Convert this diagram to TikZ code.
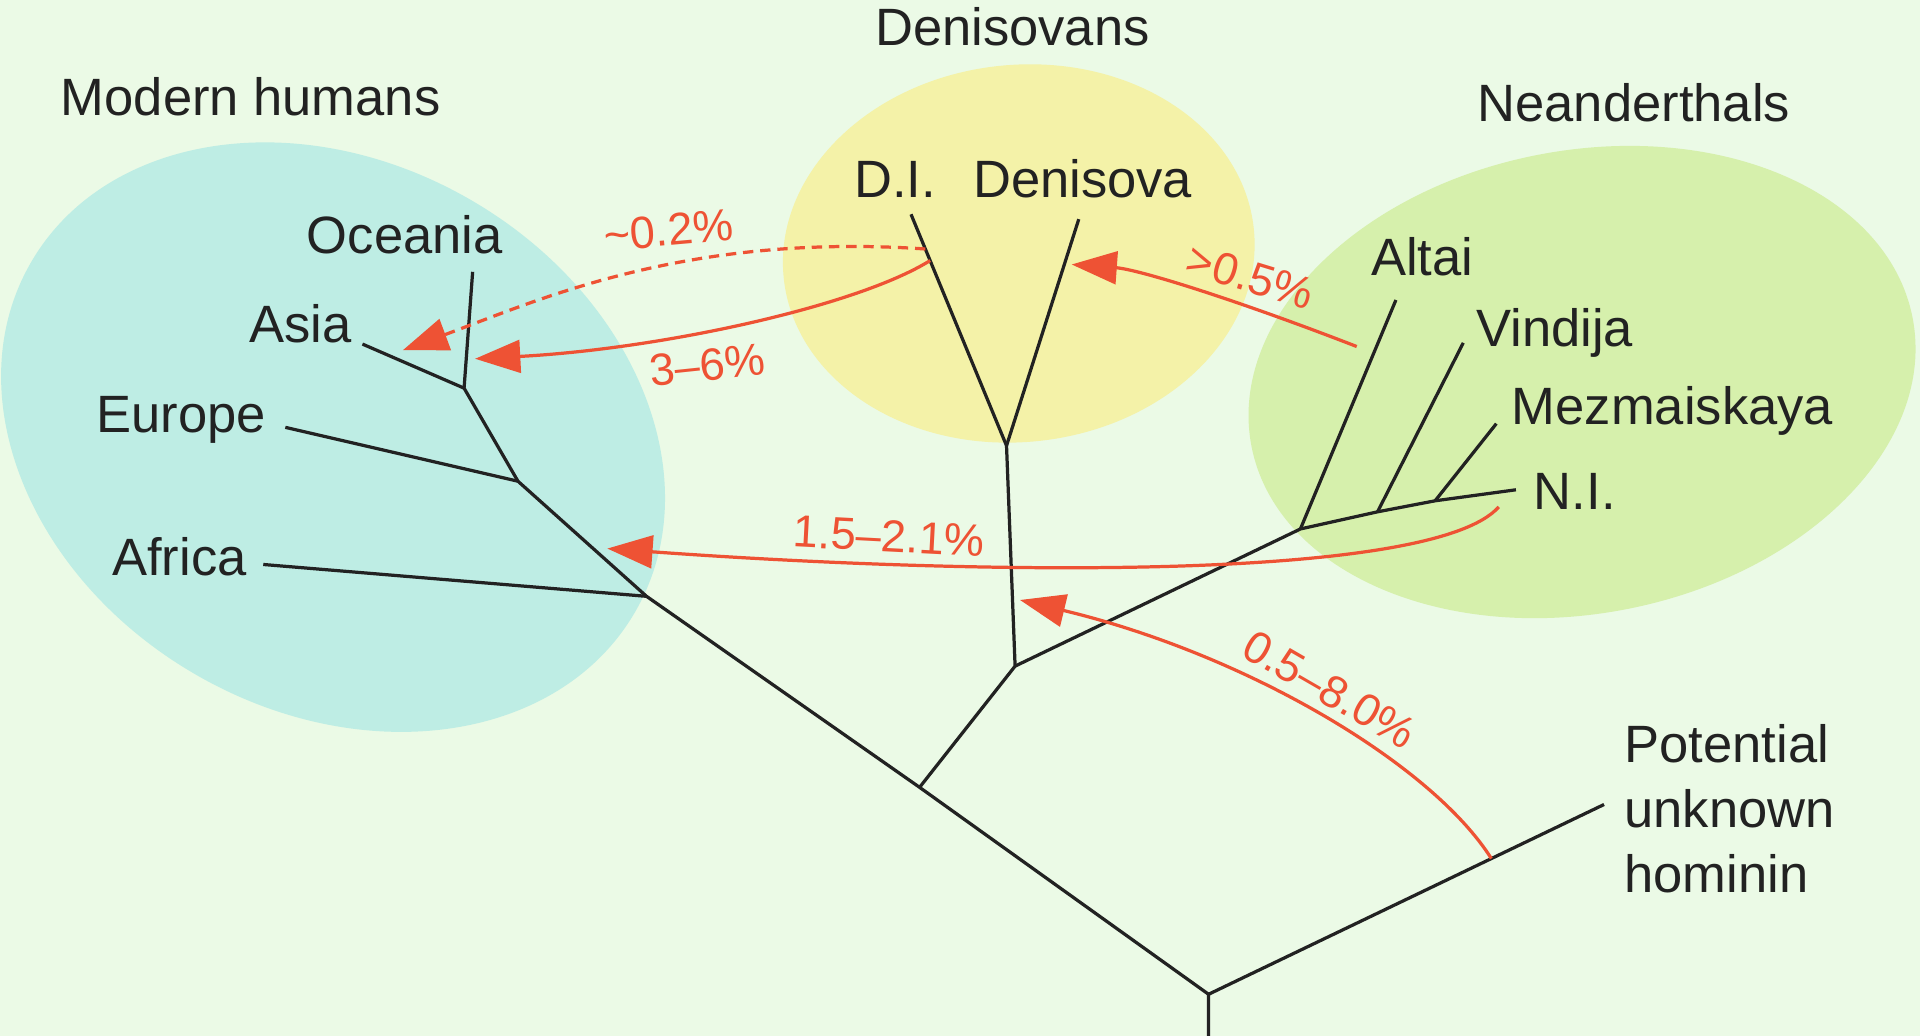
\documentclass[tikz,border=0pt]{standalone}
\usepackage{fontspec}
\setmainfont{Liberation Sans}
\usepackage{xcolor}
\usepackage{tikz}
\usetikzlibrary{arrows.meta,calc}

\definecolor{bgmint}{HTML}{EBFAE6}
\definecolor{humanblue}{HTML}{BEEDE4}
\definecolor{denyellow}{HTML}{F4F2A8}
\definecolor{neagreen}{HTML}{D6F0AC}
\definecolor{flowred}{HTML}{EE5234}
\definecolor{inkgrey}{HTML}{222222}

\begin{document}
\begin{tikzpicture}[x=0.01cm,y=-0.01cm,
    branch/.style={draw=inkgrey, line width=0.75pt, line join=round},
    flow/.style={draw=flowred, line width=0.75pt, -{Triangle[length=10.5pt,width=7.6pt]}},
    taxon/.style={font=\fontsize{12.2}{15.1}\selectfont, text=inkgrey, inner sep=0pt},
    pct/.style={font=\fontsize{10.5}{12}\selectfont, text=flowred, inner sep=0pt}]
        \fill[bgmint] (0,0) rectangle (1568,846);
        \useasboundingbox (0,0) rectangle (1568,846);

        \coordinate (mhc) at (272,357);
        \coordinate (dnc) at (832,207);
        \coordinate (nec) at (1292,312);
        \fill[humanblue, rotate around={-30:(mhc)}] (mhc) ellipse [x radius=285, y radius=224];
        \fill[denyellow, rotate around={6:(dnc)}] (dnc) ellipse [x radius=193, y radius=154];
        \fill[neagreen, rotate around={11:(nec)}] (nec) ellipse [x radius=275, y radius=189];

        \foreach \id/\x/\y in {
            r0/987/812, rb/987/846, unk/1310/657, ar/751/643, dn/829/544, dj/822/364,
            nr/1062/432, vj/1125/418, mj/1172/409, af/528/487, eu/423/393, ao/379/317,
            ditip/744/175, dstip/881/179, altip/1140/245, vitip/1195/280, mztip/1222/346,
            nitip/1238/400, aftip/215/461, eutip/233/349, astip/296/281, octip/386/222
        } {
            \coordinate (\id) at (\x,\y);
        }

        \draw[branch] (rb) -- (r0) -- (unk);
        \draw[branch] (r0) -- (ar) -- (af) -- (eu) -- (ao) -- (octip);
        \draw[branch] (ao) -- (astip);
        \draw[branch] (eu) -- (eutip);
        \draw[branch] (af) -- (aftip);
        \draw[branch] (ar) -- (dn) -- (dj) -- (ditip);
        \draw[branch] (dj) -- (dstip);
        \draw[branch] (dn) -- (nr) -- (vj) -- (mj) -- (nitip);
        \draw[branch] (nr) -- (altip);
        \draw[branch] (vj) -- (vitip);
        \draw[branch] (mj) -- (mztip);

        \foreach \id/\x/\y/\txt in {
            mh/49/94/Modern humans, dv/714/37/Denisovans, nd/1206/99/Neanderthals,
            oc/250/207/Oceania, as/203/280/Asia, eu/78/353/Europe, af/91/470/Africa,
            di/697/161/D.I., ds/794/161/Denisova, al/1119/225/Altai,
            vi/1205/283/Vindija, mz/1234/347/Mezmaiskaya, ni/1252/416/N.I.
        } {
            \node[taxon, anchor=base west] (lbl-\id) at (\x,\y) {\txt};
        }
        \node[taxon, anchor=base west, align=left] (lbl-unk) at (1326,729) {Potential\\unknown\\hominin};

        \coordinate (dashfrom) at ($(ditip)!0.15!(dj)$);
        \coordinate (solidfrom) at ($(ditip)!0.2!(dj)$);
        \coordinate (dashto) at (329,286);
        \coordinate (solidto) at (388,293);
        \coordinate (altfrom) at (1108,283);
        \coordinate (altto) at ($(dstip)!0.2!(dj)+(6,0)$);
        \coordinate (nifrom) at (1224,414);
        \coordinate (nito) at (496,448);
        \coordinate (unkfrom) at ($(r0)!0.715!(unk)$);
        \coordinate (unkto) at (833,490);

        \draw[flow, dash pattern=on 2.4pt off 1.6pt] (dashfrom) .. controls (560,190) and (440,245) .. (dashto);
        \draw[flow] (solidfrom) .. controls (700,250) and (540,285) .. (solidto);
        \draw[flow] (altfrom) .. controls (1010,245) and (930,220) .. (altto);
        \draw[flow] (nifrom) .. controls (1170,475) and (800,470) .. (nito);
        \draw[flow] (unkfrom) .. controls (1170,625) and (1020,535) .. (unkto);

        \node[pct, rotate=5] (p02) at (546,188) {\textasciitilde0.2\%};
        \node[pct, rotate=6] (p36) at (578,298) {3--6\%};
        \node[pct, rotate=-17] (p05) at (1021,226) {>0.5\%};
        \node[pct, rotate=-3] (p15) at (726,438) {1.5--2.1\%};
        \node[pct, rotate=-30] (p08) at (1086,563) {0.5--8.0\%};
    \end{tikzpicture}
\end{document}
